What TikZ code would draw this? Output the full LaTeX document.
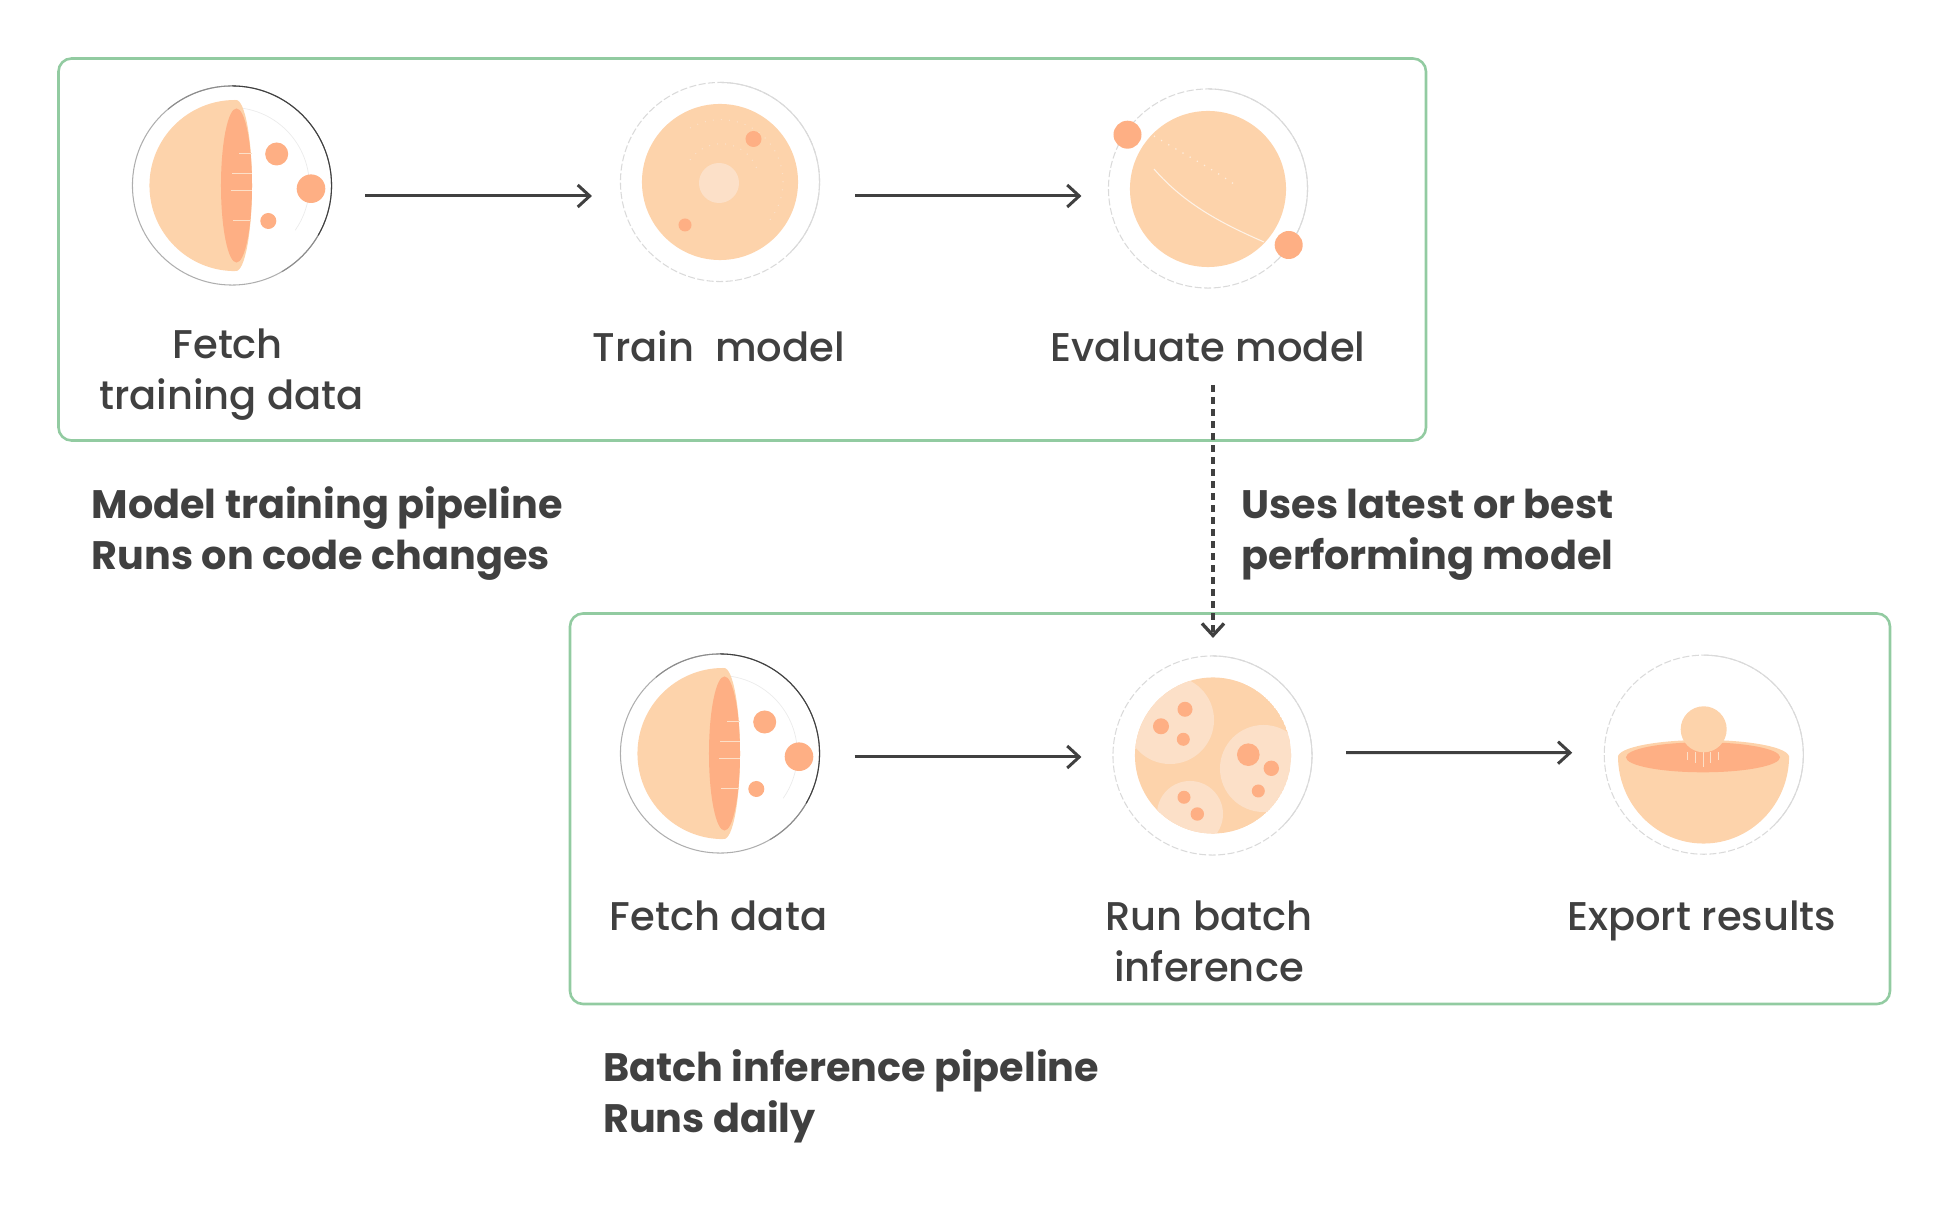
\documentclass[tikz,border=0pt]{standalone}
\usepackage{fontspec}
\setmainfont{Poppins Medium}[BoldFont={Poppins Bold}]
\usetikzlibrary{arrows.meta,calc}

\definecolor{boxgreen}{HTML}{92CBA1}
\definecolor{inktext}{HTML}{404040}
\definecolor{peach}{HTML}{FDD3AB}
\definecolor{peachlight}{HTML}{FCE0C8}
\definecolor{peachdark}{HTML}{FEAF84}
\definecolor{ringgrey}{HTML}{DADADA}

\tikzset{
    pipebox/.style={draw=boxgreen, line width=2.6*0.01cm, rounded corners=0.13cm},
    ring/.style={circle, draw=ringgrey, line width=0.3pt, dash pattern=on 2pt off 0.7pt, minimum size=1.99cm, inner sep=0pt, outer sep=0pt},
    ringarc/.style={draw=ringgrey, line width=0.3pt},
    flow/.style={draw=inktext, line width=0.85pt, -{Straight Barb[length=0.12cm,width=0.22cm]}},
    dashflow/.style={flow, line width=0.95pt, dash pattern=on 0.07cm off 0.05cm},
    steptext/.style={text=inktext, anchor=base, align=center, inner sep=0pt, font=\fontsize{11.4}{14.5}\selectfont},
    captext/.style={text=inktext, anchor=base west, align=left, inner sep=0pt, font=\fontsize{11.3}{14.5}\selectfont\bfseries},
    tick/.style={draw=peachlight, line width=0.2pt},
    halfsphere/.pic={
        \node[ring, draw=none] (-ring) at (0,0) {};
        \draw[draw=ringgrey!80!black, line width=0.3pt] (-ring.90) arc[start angle=90, end angle=330, radius=0.995cm];
        \draw[draw=inktext!60, line width=0.3pt] (-ring.130) arc[start angle=130, end angle=-60, radius=0.995cm];
        \draw[draw=inktext, line width=0.3pt] (-ring.90) arc[start angle=90, end angle=-30, radius=0.995cm];
        \draw[draw=black!8, line width=0.2pt] (2,-78) arc[start angle=88, end angle=-35, radius=0.78cm];
        \fill[peach] (3,-85.5) arc[start angle=90, end angle=270, radius=0.855cm] -- cycle;
        \fill[peach] (4,0) ellipse[x radius=0.16cm, y radius=0.855cm];
        \fill[peachdark] (4.5,0) ellipse[x radius=0.155cm, y radius=0.77cm];
        \draw[tick] (7,-32) -- (20,-32) (0,-12) -- (20,-12) (-1,5) -- (20,5) (1,35) -- (18,35);
        \fill[peachdark] (44.7,-31.5) circle[radius=0.115cm];
        \fill[peachdark] (79,3.2) circle[radius=0.143cm];
        \fill[peachdark] (36.3,35.5) circle[radius=0.08cm];
    }
}

\begin{document}
\begin{tikzpicture}[x=0.01cm, y=-0.01cm]
    \useasboundingbox (0,0) rectangle (1956,1225);

    % pipeline frames
    \draw[pipebox] (58.5,58.5) rectangle (1426,440.5);
    \draw[pipebox] (570,613.5) rectangle (1890,1004);

    % training pipeline icons
    \pic (fetchA) at (232,185.5) {halfsphere};

    \path (720,182)node[ring](trainA){};
    \draw[ringarc] (trainA.90) arc[start angle=90, end angle=-45, radius=0.995cm];
    \fill[peach] (720,182) circle[radius=0.78cm];
    \draw[peachlight, line width=0.3pt, dotted] (690,160) arc[start angle=145, end angle=20, radius=0.38cm];
    \draw[peachlight, line width=0.3pt, dotted] (690,128) arc[start angle=120, end angle=-40, radius=0.62cm];
    \fill[peachlight] (719,183) circle[radius=0.2cm];
    \fill[peachdark] (753.5,139) circle[radius=0.08cm];
    \fill[peachdark] (685,225) circle[radius=0.065cm];

    \path (1208,188.5)node[ring](evalA){};
    \draw[ringarc] (evalA.90) arc[start angle=90, end angle=-45, radius=0.995cm];
    \fill[peach] (1208,189) circle[radius=0.78cm];
    \draw[white!60!peach, line width=0.35pt, dotted] (1154,136) .. controls (1185,155) and (1215,170) .. (1238,187);
    \draw[white!70!peach, line width=0.3pt] (1154,169) .. controls (1185,205) and (1225,225) .. (1264,242);
    \fill[peachdark] (1127.5,134.7) circle[radius=0.14cm];
    \fill[peachdark] (1288.7,245) circle[radius=0.14cm];

    % inference pipeline icons
    \pic (fetchB) at (720,753.5) {halfsphere};

    \path (1212.5,755.5)node[ring](runB){};
    \draw[ringarc] (runB.90) arc[start angle=90, end angle=-45, radius=0.995cm];
    \begin{scope}
        \clip (1213,755.5) circle[radius=0.78cm];
        \fill[peach] (1213,755.5) circle[radius=0.78cm];
        \fill[peachlight] (1170,720) circle[radius=0.44cm];
        \fill[peachlight] (1263.5,768.5) circle[radius=0.435cm];
        \fill[peachlight] (1190,814) circle[radius=0.33cm];
    \end{scope}
    \foreach \px/\py/\pr in {1185/709.3/0.075, 1161/726.3/0.08, 1183.3/739.3/0.065, 1248.3/754.7/0.113, 1271.3/768.3/0.077, 1258.3/791/0.065, 1184/797.3/0.065, 1197.3/814/0.067}
        \fill[peachdark] (\px,\py) circle[radius=\pr cm];

    \path (1703.8,754.7)node[ring](exportB){};
    \draw[ringarc] (exportB.90) arc[start angle=90, end angle=-45, radius=0.995cm];
    \fill[peach] (1618,756) arc[start angle=180, end angle=360, x radius=0.855cm, y radius=0.875cm] -- cycle;
    \fill[peach] (1703.5,757) ellipse[x radius=0.855cm, y radius=0.17cm];
    \fill[peachdark] (1703,757.3) ellipse[x radius=0.77cm, y radius=0.15cm];
    \draw[tick] (1687,752) -- (1687,760) (1695.5,752) -- (1695.5,763) (1703,752) -- (1703,767) (1710.5,752) -- (1710.5,763) (1718.5,752) -- (1718.5,760);
    \fill[peach] (1703.7,729.3) circle[radius=0.23cm];

    % step labels
    \path (231.5,409.5)node[steptext](fetchAtxt){Fetch\rule{2.1pt}{0pt}\\training data};
    \path (718.6,361.5)node[steptext](trainAtxt){Train\ \ model};
    \path (1208,361.5)node[steptext](evalAtxt){Evaluate model};
    \path (718.6,930.6)node[steptext](fetchBtxt){Fetch data};
    \path (1209,981.6)node[steptext](runBtxt){Run batch\\inference};
    \path (1701.6,930.6)node[steptext](exportBtxt){Export results};

    % captions
    \path (91,570)node[captext](trainCap){Model training pipeline\\Runs on code changes};
    \path (1241,570)node[captext](usesCap){Uses latest or best\\performing model};
    \path (602.5,1132.7)node[captext](batchCap){Batch inference pipeline\\Runs daily};

    % connectors
    \draw[flow] ($(fetchA-ring.east)+(33.5,10.5)$) -- ($(trainA.west)+(-28.5,14)$);
    \draw[flow] ($(trainA.east)+(35.5,14)$) -- ($(evalA.west)+(-27,7.5)$);
    \draw[flow] ($(fetchB-ring.east)+(35,3.5)$) -- ($(runB.west)+(-31.5,1.5)$);
    \draw[flow] ($(runB.east)+(34,-2.8)$) -- ($(exportB.west)+(-32,-2)$);
    \draw[dashflow] ($(evalAtxt.base)+(5,23.5)$) -- ($(runB.north)+(0.5,-18)$);
\end{tikzpicture}
\end{document}
